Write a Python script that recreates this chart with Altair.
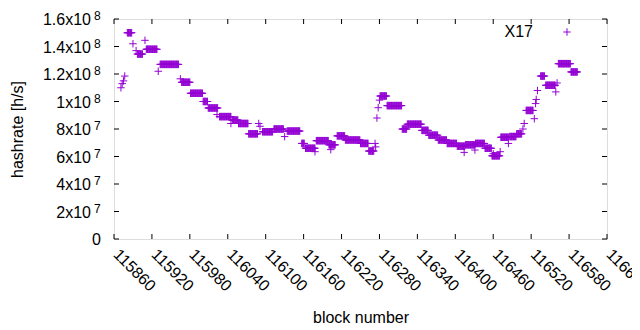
import altair as alt
import pandas as pd

# constant-hashrate runs: first block, last block, hashrate [h/s]
run_start = [115881, 115897, 115911, 115933, 115967, 115981, 116001, 116009, 116027, 116047,
             116057, 116073, 116095, 116113, 116134, 116157, 116163, 116180, 116200, 116213,
             116226, 116250, 116263, 116281, 116292, 116316, 116324, 116347, 116358, 116373,
             116387, 116403, 116416, 116432, 116447, 116458, 116472, 116486, 116497, 116512,
             116535, 116543, 116563, 116583]
run_end = [115888, 115905, 115928, 115962, 115980, 116000, 116008, 116024, 116045, 116056,
           116072, 116087, 116111, 116128, 116154, 116161, 116178, 116199, 116210, 116225,
           116249, 116262, 116271, 116291, 116315, 116323, 116346, 116357, 116372, 116386,
           116402, 116415, 116431, 116446, 116457, 116470, 116484, 116496, 116505, 116523,
           116541, 116558, 116582, 116593]
run_value = [1.500e8, 1.345e8, 1.380e8, 1.270e8, 1.140e8, 1.060e8, 1.000e8, 0.953e8, 0.890e8, 0.865e8,
             0.840e8, 0.765e8, 0.780e8, 0.800e8, 0.785e8, 0.695e8, 0.660e8, 0.715e8, 0.685e8, 0.750e8,
             0.720e8, 0.695e8, 0.640e8, 1.040e8, 0.970e8, 0.800e8, 0.835e8, 0.790e8, 0.755e8, 0.720e8,
             0.695e8, 0.675e8, 0.685e8, 0.695e8, 0.660e8, 0.605e8, 0.740e8, 0.745e8, 0.765e8, 0.935e8,
             1.185e8, 1.118e8, 1.275e8, 1.215e8]

# isolated blocks
single_block = [115871, 115873, 115875, 115877, 115890, 115895, 115909, 115930, 115965, 116023,
                116045, 116089, 116091, 116130, 116178, 116203, 116273, 116274, 116276, 116278,
                116280, 116414, 116431, 116460, 116471, 116484, 116507, 116509, 116525, 116527,
                116528, 116530, 116559, 116561]
single_value = [1.100e8, 1.130e8, 1.150e8, 1.185e8, 1.420e8, 1.370e8, 1.445e8, 1.220e8, 1.165e8, 0.905e8,
                0.840e8, 0.840e8, 0.820e8, 0.745e8, 0.635e8, 0.650e8, 0.695e8, 0.670e8, 0.880e8, 0.955e8,
                1.010e8, 0.630e8, 0.647e8, 0.620e8, 0.635e8, 0.695e8, 0.800e8, 0.840e8, 0.875e8, 0.985e8,
                1.015e8, 1.080e8, 1.070e8, 1.135e8]

x_ticks = [115860, 115920, 115980, 116040, 116100, 116160, 116220, 116280, 116340,
           116400, 116460, 116520, 116580, 116640]
y_ticks = [0, 2e7, 4e7, 6e7, 8e7, 1e8, 1.2e8, 1.4e8, 1.6e8]
y_base = ["0", "2x10", "4x10", "6x10", "8x10", "1x10", "1.2x10", "1.4x10", "1.6x10"]
y_exp = ["", "7", "7", "7", "7", "8", "8", "8", "8"]
series_name = "X17"

rows = []
for s, e, v in zip(run_start, run_end, run_value):
    for b in range(s, e + 1):
        rows.append({"block": b, "hashrate": v})
for b, v in zip(single_block, single_value):
    rows.append({"block": b, "hashrate": v})
points_df = pd.DataFrame(rows)
xt_df = pd.DataFrame({"block": x_ticks})
yt_df = pd.DataFrame({"hashrate": y_ticks, "base": y_base, "exp": y_exp})

FONT = "Liberation Sans"
PURPLE = "#9400d3"
PLUS = "M-1,0H1M0,-1V1"
W, H = 493, 220

xs = alt.Scale(domain=[115860, 116640], nice=False, zero=False)
ys = alt.Scale(domain=[0, 1.6e8], nice=False)

x_axis = alt.Axis(
    values=x_ticks, format="d", labelAngle=45, labelAlign="left", labelBaseline="alphabetic",
    labelPadding=16, labelOffset=-2, tickSize=0, labelFontSize=16, labelFont=FONT,
    labelColor="black", ticks=False, domain=False, grid=False, labelOverlap=False,
    labelFlush=False, title="block number", titleFont=FONT, titleFontSize=16,
    titleFontWeight="normal", titleColor="black", titlePadding=15)
y_axis = alt.Axis(
    values=y_ticks, labels=False, ticks=False, domain=False, grid=False,
    title="hashrate [h/s]", titleFont=FONT, titleFontSize=16, titleFontWeight="normal",
    titleColor="black", titlePadding=89)

X = alt.X("block:Q", scale=xs, axis=x_axis)
Y = alt.Y("hashrate:Q", scale=ys, axis=y_axis)

points = alt.Chart(points_df).mark_point(
    shape=PLUS, size=56, filled=False, strokeWidth=1, color=PURPLE, opacity=1
).encode(x=X, y=Y)

tick_bottom = alt.Chart(xt_df).mark_rule(color="black", strokeWidth=1).encode(
    x=X, y=alt.value(H), y2=alt.value(H - 5))
tick_top = alt.Chart(xt_df).mark_rule(color="black", strokeWidth=1).encode(
    x=X, y=alt.value(0), y2=alt.value(5))
tick_left = alt.Chart(yt_df).mark_rule(color="black", strokeWidth=1).encode(
    y=Y, x=alt.value(0), x2=alt.value(5))
tick_right = alt.Chart(yt_df).mark_rule(color="black", strokeWidth=1).encode(
    y=Y, x=alt.value(W), x2=alt.value(W - 5))

lab_base = alt.Chart(yt_df).transform_filter("datum.hashrate > 0").mark_text(
    align="right", baseline="middle", fontSize=16, font=FONT, color="black", dy=1
).encode(y=Y, x=alt.value(-23), text="base:N")
lab_exp = alt.Chart(yt_df).transform_filter("datum.hashrate > 0").mark_text(
    align="left", baseline="middle", fontSize=12, font=FONT, color="black", dy=-3
).encode(y=Y, x=alt.value(-20), text="exp:N")
lab_zero = alt.Chart(yt_df).transform_filter("datum.hashrate == 0").mark_text(
    align="right", baseline="middle", fontSize=16, font=FONT, color="black", dy=1
).encode(y=Y, x=alt.value(-13), text="base:N")

leg_df = pd.DataFrame({"name": [series_name]})
leg_text = alt.Chart(leg_df).mark_text(
    align="right", baseline="middle", fontSize=16, font=FONT, color="black"
).encode(x=alt.value(419), y=alt.value(13), text="name:N")
leg_point = alt.Chart(leg_df).mark_point(
    shape=PLUS, size=56, filled=False, strokeWidth=1, color=PURPLE, opacity=1
).encode(x=alt.value(453), y=alt.value(13))

chart = alt.layer(
    points, tick_bottom, tick_top, tick_left, tick_right,
    lab_base, lab_exp, lab_zero, leg_text, leg_point
).properties(
    width=W, height=H,
    autosize=alt.AutoSizeParams(type="none"),
    padding={"left": 106, "top": 11, "right": 25, "bottom": 91},
).configure_view(stroke="black", strokeWidth=1).configure(background="white")

chart.save("out.html", embed_options={"renderer": "svg", "actions": False})
